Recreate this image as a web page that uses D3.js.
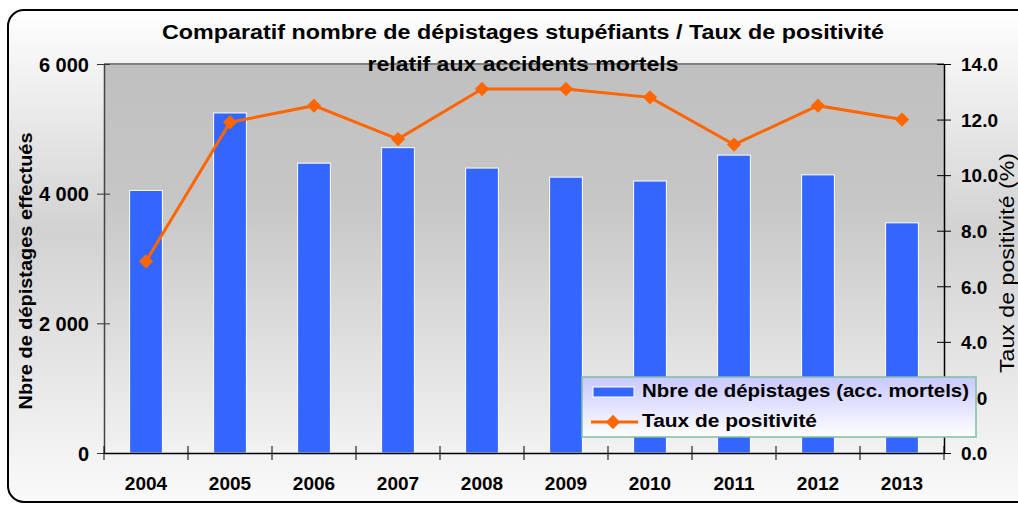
<!DOCTYPE html>
<html>
<head>
<meta charset="utf-8">
<script src="https://cdn.jsdelivr.net/npm/d3@7"></script>
<style>
  body { margin: 0; background: #ffffff; }
  text { font-family: "Liberation Sans", Arial, sans-serif; }
</style>
</head>
<body>
<div id="main"></div>
<script>
const years = ["2004", "2005", "2006", "2007", "2008", "2009", "2010", "2011", "2012", "2013"];
const depistages = [4050, 5245, 4470, 4710, 4395, 4255, 4195, 4595, 4290, 3550];
const tauxPositivite = [6.9, 11.9, 12.5, 11.3, 13.1, 13.1, 12.8, 11.1, 12.5, 12.0];
const leftTicks = [0, 2000, 4000, 6000];
const rightTicks = [0, 2, 4, 6, 8, 10, 12, 14];

const ctx = {
    width : 1018,
    height : 506,
    plotLeft : 104,
    plotRight : 944,
    plotTop : 64,
    plotBottom : 453,
    barBlue : "#3366ff",
    lineOrange : "#ff6600"
}

function createViz(){
    let svg = d3.select("#main").append("svg")
        .attr("width", ctx.width)
        .attr("height", ctx.height);

    let defs = svg.append("defs");
    let outerGrad = defs.append("linearGradient").attr("id", "outerGrad")
        .attr("x1", 0).attr("y1", 0).attr("x2", 0).attr("y2", 1);
    outerGrad.append("stop").attr("offset", "0%").attr("stop-color", "#ffffff");
    outerGrad.append("stop").attr("offset", "45%").attr("stop-color", "#d2d2d2");
    outerGrad.append("stop").attr("offset", "100%").attr("stop-color", "#fafafa");

    let plotGrad = defs.append("linearGradient").attr("id", "plotGrad")
        .attr("x1", 0).attr("y1", 0).attr("x2", 0).attr("y2", 1);
    plotGrad.append("stop").attr("offset", "0%").attr("stop-color", "#c0c0c0");
    plotGrad.append("stop").attr("offset", "35%").attr("stop-color", "#c6c6c6");
    plotGrad.append("stop").attr("offset", "100%").attr("stop-color", "#f2f2f2");

    let legendGrad = defs.append("linearGradient").attr("id", "legendGrad")
        .attr("x1", 0).attr("y1", 0).attr("x2", 0).attr("y2", 1);
    legendGrad.append("stop").attr("offset", "0%").attr("stop-color", "#c8c8ff");
    legendGrad.append("stop").attr("offset", "100%").attr("stop-color", "#ffffff");

    // chart background + rounded border
    svg.append("rect")
        .attr("x", 8).attr("y", 10)
        .attr("width", 1030).attr("height", 492)
        .attr("rx", 16).attr("ry", 16)
        .attr("fill", "url(#outerGrad)")
        .attr("stroke", "black")
        .attr("stroke-width", 2);

    // scales
    let x = d3.scaleBand()
        .domain(years)
        .range([ctx.plotLeft, ctx.plotRight])
        .paddingInner(0.61)
        .paddingOuter(0.305);
    let xPoint = d3.scalePoint()
        .domain(years)
        .range([ctx.plotLeft, ctx.plotRight])
        .padding(0.5);
    let yLeft = d3.scaleLinear()
        .domain([0, 6000])
        .range([ctx.plotBottom, ctx.plotTop]);
    let yRight = d3.scaleLinear()
        .domain([0, 14])
        .range([ctx.plotBottom, ctx.plotTop]);

    // plot area
    svg.append("rect")
        .attr("x", ctx.plotLeft)
        .attr("y", ctx.plotTop)
        .attr("width", ctx.plotRight - ctx.plotLeft)
        .attr("height", ctx.plotBottom - ctx.plotTop)
        .attr("fill", "url(#plotGrad)");
    svg.append("line")
        .attr("x1", ctx.plotLeft).attr("x2", ctx.plotRight)
        .attr("y1", ctx.plotTop).attr("y2", ctx.plotTop)
        .attr("stroke", "#808080")
        .attr("stroke-width", 2);

    // bars
    svg.append("g").selectAll("rect")
        .data(depistages)
        .enter()
        .append("rect")
        .attr("x", (d, i) => x(years[i]))
        .attr("y", d => yLeft(d))
        .attr("width", x.bandwidth())
        .attr("height", d => yLeft(0) - yLeft(d))
        .attr("fill", ctx.barBlue)
        .attr("stroke", "white")
        .attr("stroke-width", 1);

    // axes
    let fmtLeft = d => d === 0 ? "0" : d3.format(",")(d).replace(",", " ");
    let leftAxis = svg.append("g")
        .attr("transform", "translate(" + ctx.plotLeft + ",0)")
        .call(d3.axisLeft(yLeft).tickValues(leftTicks).tickFormat(fmtLeft).tickSize(7).tickSizeOuter(0));
    let rightAxis = svg.append("g")
        .attr("transform", "translate(" + ctx.plotRight + ",0)")
        .call(d3.axisRight(yRight).tickValues(rightTicks).tickFormat(d3.format(".1f")).tickSize(7).tickSizeOuter(0));
    let bottomAxis = svg.append("g")
        .attr("transform", "translate(0," + ctx.plotBottom + ")")
        .call(d3.axisBottom(x).tickSize(0).tickSizeOuter(0));

    // category separator ticks
    svg.append("g").selectAll("line")
        .data(d3.range(years.length + 1))
        .enter()
        .append("line")
        .attr("x1", i => ctx.plotLeft + i * x.step())
        .attr("x2", i => ctx.plotLeft + i * x.step())
        .attr("y1", ctx.plotBottom - 7)
        .attr("y2", ctx.plotBottom + 7)
        .attr("stroke", "black");

    [leftAxis, rightAxis, bottomAxis].forEach(a => {
        a.select(".domain").attr("stroke", "black").attr("stroke-width", 1.5);
        a.selectAll("text")
            .attr("font-family", "'Liberation Sans', Arial, sans-serif")
            .attr("font-size", "19px")
            .attr("font-weight", "bold")
            .attr("fill", "black");
    });
    leftAxis.selectAll("text").attr("font-size", "20px");
    leftAxis.select(".domain").attr("stroke", "#444");
    leftAxis.selectAll(".tick line").attr("transform", "translate(6,0)").attr("x2", -13).attr("stroke", "#333");
    leftAxis.selectAll("text").attr("x", -15).attr("dy", "0.36em");
    rightAxis.selectAll(".tick line").attr("x1", -7).attr("x2", 7);
    rightAxis.selectAll("text").attr("x", 17).attr("dy", "0.36em");
    bottomAxis.selectAll("text").attr("y", 37).attr("dy", "0");

    // line series
    let line = d3.line()
        .x((d, i) => xPoint(years[i]))
        .y(d => yRight(d));
    svg.append("path")
        .datum(tauxPositivite)
        .attr("d", line)
        .attr("fill", "none")
        .attr("stroke", ctx.lineOrange)
        .attr("stroke-width", 3);
    let diamond = d3.symbol().type(d3.symbolDiamond2).size(130);
    svg.append("g").selectAll("path")
        .data(tauxPositivite)
        .enter()
        .append("path")
        .attr("d", diamond)
        .attr("transform", (d, i) => "translate(" + xPoint(years[i]) + "," + yRight(d) + ")")
        .attr("fill", ctx.lineOrange);

    // titles (the source renders its fonts wider, so text lengths are fixed)
    svg.append("text")
        .attr("x", 523).attr("y", 39)
        .attr("font-size", "20px")
        .attr("font-weight", "bold")
        .attr("text-anchor", "middle")
        .attr("textLength", 722)
        .attr("lengthAdjust", "spacingAndGlyphs")
        .attr("fill", "black")
        .text("Comparatif nombre de dépistages stupéfiants / Taux de positivité");
    svg.append("text")
        .attr("x", 523).attr("y", 71)
        .attr("font-size", "20px")
        .attr("font-weight", "bold")
        .attr("text-anchor", "middle")
        .attr("textLength", 311)
        .attr("lengthAdjust", "spacingAndGlyphs")
        .attr("fill", "black")
        .text("relatif aux accidents mortels");

    svg.append("text")
        .attr("transform", "translate(32,271) rotate(-90)")
        .attr("text-anchor", "middle")
        .attr("font-size", "18px")
        .attr("font-weight", "bold")
        .attr("textLength", 277)
        .attr("lengthAdjust", "spacingAndGlyphs")
        .attr("fill", "black")
        .text("Nbre de dépistages effectués");
    svg.append("text")
        .attr("transform", "translate(1014,263) rotate(-90)")
        .attr("text-anchor", "middle")
        .attr("font-size", "20px")
        .attr("textLength", 220)
        .attr("lengthAdjust", "spacingAndGlyphs")
        .attr("fill", "black")
        .text("Taux de positivité (%)");

    // legend
    let legend = svg.append("g").attr("transform", "translate(582,377)");
    legend.append("rect")
        .attr("width", 394).attr("height", 60)
        .attr("fill", "url(#legendGrad)")
        .attr("stroke", "#7fbfa0")
        .attr("stroke-width", 1.5);
    legend.append("rect")
        .attr("x", 11).attr("y", 10)
        .attr("width", 41).attr("height", 10)
        .attr("fill", ctx.barBlue)
        .attr("stroke", "white");
    legend.append("line")
        .attr("x1", 9).attr("x2", 56)
        .attr("y1", 45).attr("y2", 45)
        .attr("stroke", ctx.lineOrange)
        .attr("stroke-width", 3);
    legend.append("path")
        .attr("d", diamond)
        .attr("transform", "translate(31,45)")
        .attr("fill", ctx.lineOrange);
    let legendLabels = ["Nbre de dépistages (acc. mortels)", "Taux de positivité"];
    let legendWidths = [327, 175];
    legend.selectAll("text.lbl")
        .data(legendLabels)
        .enter()
        .append("text")
        .attr("class", "lbl")
        .attr("x", 60)
        .attr("y", (d, i) => 20 + i * 30)
        .attr("font-size", "18px")
        .attr("font-weight", "bold")
        .attr("textLength", (d, i) => legendWidths[i])
        .attr("lengthAdjust", "spacingAndGlyphs")
        .attr("fill", "black")
        .text(d => d);
}

createViz();
</script>
</body>
</html>
